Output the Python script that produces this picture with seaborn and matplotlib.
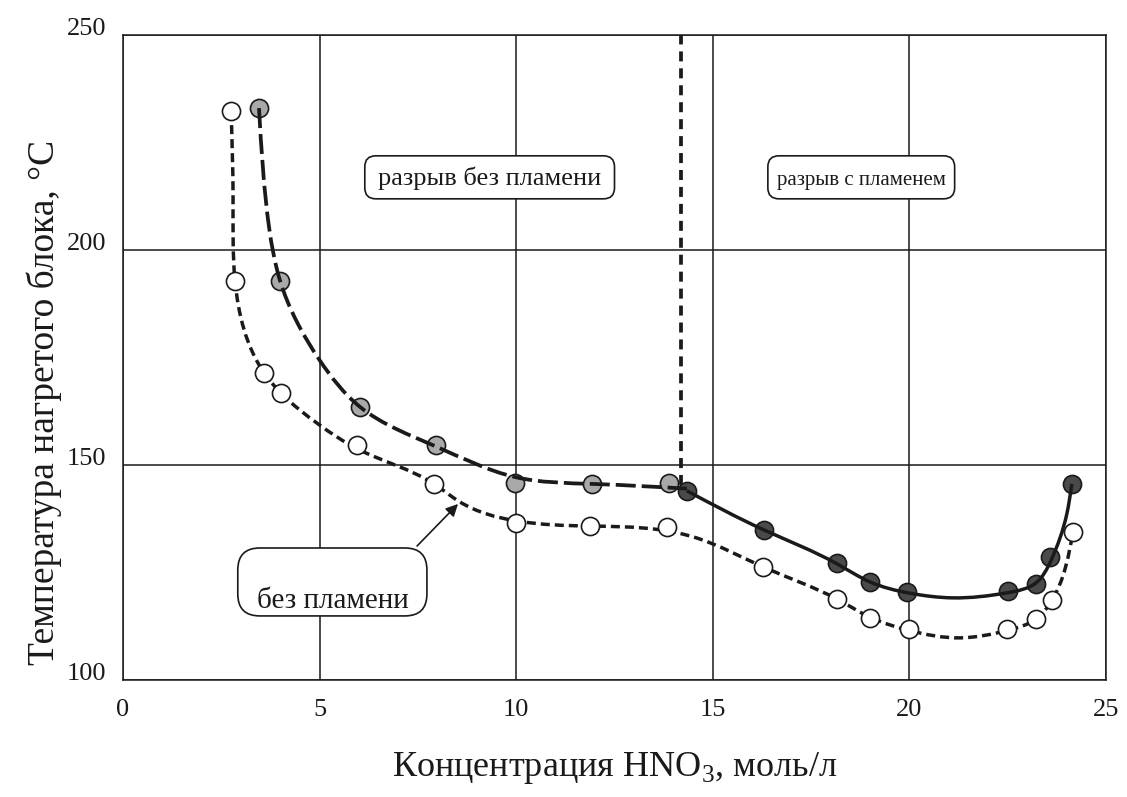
import numpy as np
import pandas as pd
import matplotlib
matplotlib.use("Agg")
import matplotlib.pyplot as plt
from matplotlib.path import Path
from matplotlib.patches import PathPatch, FancyBboxPatch
import seaborn as sns

# ---- measured points ----
# open circles: no flame
open_x = [2.75, 2.85, 3.59, 4.02, 5.95, 7.91, 10.0, 11.88, 13.83, 16.28, 18.16, 19.0, 20.0, 22.48, 23.22, 23.63, 24.16]
open_y = [232.3, 192.8, 171.4, 166.7, 154.7, 145.6, 136.5, 135.8, 135.6, 126.3, 118.8, 114.4, 111.9, 111.9, 114.2, 118.6, 134.4]

# grey circles: rupture without flame
grey_x = [3.46, 3.99, 6.03, 7.96, 9.97, 11.93, 13.89]
grey_y = [233.0, 192.8, 163.5, 154.7, 145.8, 145.6, 145.8]

# dark circles: rupture with flame
dark_x = [14.34, 16.30, 18.16, 19.00, 19.94, 22.50, 23.22, 23.58, 24.13]
dark_y = [144.0, 134.9, 127.2, 122.8, 120.5, 120.7, 122.3, 128.6, 145.6]

# smoothed trend curves (knots along each fitted line)
lower_fit_x = [2.75, 2.80, 2.85, 3.59, 4.02, 5.0, 5.95, 7.91, 8.57, 10.0, 11.88, 13.6, 14.6, 16.28, 18.16, 19.0, 20.0, 21.3, 22.48, 23.22, 23.63, 24.16]
lower_fit_y = [232.3, 212.0, 192.8, 171.4, 166.7, 159.3, 153.8, 145.6, 141.4, 137.0, 135.8, 135.0, 133.0, 126.3, 118.8, 114.6, 111.5, 109.8, 111.5, 114.2, 118.6, 134.4]
upper_fit_x = [3.46, 3.72, 3.99, 5.0, 6.03, 7.96, 9.97, 11.93, 14.34]
upper_fit_y = [233.0, 205.0, 193.0, 174.4, 163.5, 154.3, 147.2, 145.6, 144.5]
flame_fit_x = [14.34, 16.30, 18.16, 19.0, 20.0, 21.1, 22.5, 23.22, 23.6, 24.0, 24.13]
flame_fit_y = [144.0, 134.9, 127.0, 122.8, 120.2, 119.1, 120.3, 122.6, 127.8, 138.5, 145.6]

# boundary between the two rupture regimes
boundary_x = 14.18
boundary_y = (145.4, 250.0)

x_ticks = [0, 5, 10, 15, 20, 25]
y_ticks = [100, 150, 200, 250]

INK = "#1a1a1a"

sns.set_theme(style="white")
plt.rcParams["font.family"] = ["Liberation Serif", "DejaVu Serif"]
plt.rcParams["mathtext.fontset"] = "custom"
plt.rcParams["mathtext.rm"] = "Liberation Serif"
plt.rcParams["lines.scale_dashes"] = False

fig = plt.figure(figsize=(11.27, 7.97), dpi=100)
ax = fig.add_axes([0.1091, 0.1468, 0.8723, 0.8093])
ax.set_xlim(0, 25)
ax.set_ylim(100, 250)
ax.set_xticks(x_ticks)
ax.set_yticks(y_ticks)
ax.grid(True, color=INK, lw=1.1)
ax.set_axisbelow(True)
for sp in ax.spines.values():
    sp.set_color(INK)
    sp.set_linewidth(1.1)
ax.tick_params(length=0, labelsize=19, colors=INK)
ax.tick_params(axis="x", pad=14)
ax.tick_params(axis="y", pad=12)
for lab in ax.get_yticklabels():
    lab.set_verticalalignment("baseline")

# pixel scale per data unit, so curves and rounded boxes are isotropic on screen
p0 = ax.transData.transform((0, 100))
p1 = ax.transData.transform((1, 101))
sx, sy = p1[0] - p0[0], p1[1] - p0[1]


def natural_second_derivs(t, v):
    n = len(t)
    h = np.diff(t)
    A = np.zeros((n, n))
    b = np.zeros(n)
    A[0, 0] = A[-1, -1] = 1.0
    for i in range(1, n - 1):
        A[i, i - 1] = h[i - 1]
        A[i, i] = 2 * (h[i - 1] + h[i])
        A[i, i + 1] = h[i]
        b[i] = 6 * ((v[i + 1] - v[i]) / h[i] - (v[i] - v[i - 1]) / h[i - 1])
    return np.linalg.solve(A, b)


def smooth_path(xs, ys):
    P = np.column_stack([np.asarray(xs) * sx, np.asarray(ys) * sy])
    t = np.concatenate([[0], np.cumsum(np.linalg.norm(np.diff(P, axis=0), axis=1))])
    M = np.column_stack([natural_second_derivs(t, P[:, k]) for k in range(2)])
    verts = [P[0]]
    codes = [Path.MOVETO]
    for i in range(len(P) - 1):
        h = t[i + 1] - t[i]
        slope = (P[i + 1] - P[i]) / h
        d0 = slope - h * (2 * M[i] + M[i + 1]) / 6
        d1 = slope + h * (M[i] + 2 * M[i + 1]) / 6
        verts += [P[i] + h * d0 / 3, P[i + 1] - h * d1 / 3, P[i + 1]]
        codes += [Path.CURVE4] * 3
    V = np.array(verts)
    V[:, 0] /= sx
    V[:, 1] /= sy
    return Path(V, codes)


# lower curve (short dashes) under its open markers
ax.add_patch(PathPatch(smooth_path(lower_fit_x, lower_fit_y), fill=False, ec=INK,
                       lw=2.5, ls=(0, (6.5, 3.6)), zorder=3))

df_open = pd.DataFrame({"x": open_x, "y": open_y})
df_grey = pd.DataFrame({"x": grey_x, "y": grey_y})
df_dark = pd.DataFrame({"x": dark_x, "y": dark_y})
sns.scatterplot(data=df_open, x="x", y="y", ax=ax, s=170, color="white",
                edgecolor=INK, linewidth=1.2, zorder=4)
sns.scatterplot(data=df_grey, x="x", y="y", ax=ax, s=170, color="#a9a9a9",
                edgecolor=INK, linewidth=1.2, zorder=4)
sns.scatterplot(data=df_dark, x="x", y="y", ax=ax, s=170, color="#4a4a4a",
                edgecolor=INK, linewidth=1.2, zorder=4)

# upper curves drawn over the grey/dark markers
ax.add_patch(PathPatch(smooth_path(upper_fit_x, upper_fit_y), fill=False, ec=INK,
                       lw=2.7, ls=(0, (14.4, 4.3)), zorder=5))
ax.add_patch(PathPatch(smooth_path(flame_fit_x, flame_fit_y), fill=False, ec=INK,
                       lw=2.5, ls="-", zorder=5))
ax.plot([boundary_x, boundary_x], boundary_y, color=INK, lw=2.7,
        dashes=(7.2, 5.0), zorder=5)

ax.set_xlabel("")
ax.set_ylabel("")


def rounded_box(x0, x1, y0, y1, r_px):
    box = FancyBboxPatch((x0, y0), x1 - x0, y1 - y0,
                         boxstyle=f"round,pad=0,rounding_size={r_px / sx}",
                         mutation_aspect=sx / sy, fc="white", ec=INK, lw=1.2, zorder=6)
    ax.add_patch(box)


rounded_box(6.15, 12.5, 211.9, 221.9, 11)
ax.text(9.33, 215.1, "разрыв без пламени", ha="center", va="baseline",
        fontsize=19, color=INK, zorder=7)
rounded_box(16.4, 21.15, 211.9, 221.9, 11)
ax.text(18.78, 215.1, "разрыв с пламенем", ha="center", va="baseline",
        fontsize=15, color=INK, zorder=7)

rounded_box(2.92, 7.73, 114.9, 130.7, 22)
ax.text(5.33, 116.7, "без пламени", ha="center", va="baseline",
        fontsize=21, color=INK, zorder=7)
ax.annotate("", xy=(8.57, 141.4), xytext=(7.43, 130.7),
            arrowprops=dict(arrowstyle="-|>", lw=1.2, color=INK, mutation_scale=18),
            zorder=7)

ax.set_xlabel("Концентрация HNO$_\\mathregular{3}$, моль/л", fontsize=26, color=INK)
ax.xaxis.set_label_coords(0.5, -0.108)
ax.xaxis.label.set_verticalalignment("top")
ax.set_ylabel("Температура нагретого блока, °C", fontsize=27, color=INK)
ax.yaxis.set_label_coords(-0.062, 0.43)

fig.savefig("out.png", dpi=100, facecolor="white")
